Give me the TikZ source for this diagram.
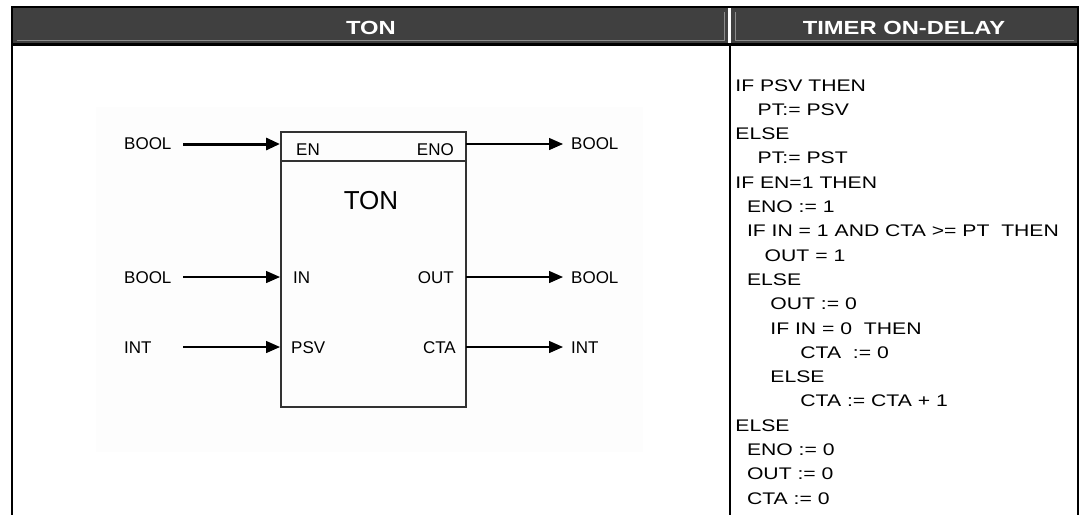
\documentclass[tikz,border=0pt]{standalone}
\usepackage{fontspec}
\setmainfont{Liberation Sans}
\newfontfamily\codefont[FakeStretch=1.26]{Liberation Sans}
\newfontfamily\hdrfont[FakeStretch=1.25]{Liberation Sans}
\usetikzlibrary{arrows.meta}
\definecolor{hdrgray}{RGB}{64,64,64}
\definecolor{bevel}{RGB}{140,140,140}
\definecolor{pale}{RGB}{253,253,253}
\definecolor{boxline}{RGB}{50,50,50}
\tikzset{
  hdr/.style={inner sep=0, text=white, font=\hdrfont\bfseries\fontsize{19}{21}\selectfont},
  code/.style={inner sep=0, anchor=base west, font=\codefont\fontsize{16.8}{18}\selectfont},
  pin/.style={inner sep=0, font=\fontsize{17}{18}\selectfont},
  title/.style={inner sep=0, font=\fontsize{26}{28}\selectfont},
  wire/.style={line width=1.4pt, -{Triangle[length=14pt,width=12pt]}},
  thickwire/.style={line width=3pt, -{Triangle[length=14pt,width=12pt]}},
  frame/.style={line width=2pt, black},
  bevelline/.style={line width=1pt, bevel},
  blockbox/.style={draw=boxline, line width=2pt, inner sep=0, minimum width=185pt, minimum height=275pt}
}
\begin{document}
\begin{tikzpicture}[x=1pt,y=-1pt]
\useasboundingbox (0,0) rectangle (1086,515);
% header cells
\fill[hdrgray] (12,7) rectangle (728.3,43.5);
\fill[hdrgray] (731,7) rectangle (1078,43.5);
\draw[bevelline] (16.7,40.3) -- (724.3,40.3) -- (724.3,12);
\draw[bevelline] (735.7,12) -- (735.7,40.3) -- (1074,40.3);
% frame
\draw[frame] (11,7) -- (1079,7);
\draw[frame] (12,6) -- (12,515);
\draw[frame] (1078,6) -- (1078,515);
\draw[line width=2.4pt] (11,44.5) -- (1079,44.5);
\draw[line width=2.4pt] (729.8,44.5) -- (729.8,515);
\node[hdr] (h1) at (371,28.3) {TON};
\node[hdr] (h2) at (904,28.3) {TIMER ON-DELAY};
% diagram area
\fill[pale] (96,107) rectangle (643,452);
\node[blockbox, anchor=north west] (blk) at (280,131) {};
\draw[boxline, line width=2pt] (280,161) -- (465,161);
\node[title] (ton) at (371,201) {TON};
% pins inside
\node[pin, anchor=west] (pEN) at (296,150) {EN};
\node[pin, anchor=east] (pENO) at (454,150) {ENO};
\node[pin, anchor=west] (pIN) at (293,278) {IN};
\node[pin, anchor=east] (pOUT) at (454,278) {OUT};
\node[pin, anchor=west] (pPSV) at (291,348) {PSV};
\node[pin, anchor=east] (pCTA) at (456,348) {CTA};
% outer labels
\node[pin, anchor=west] (lEN) at (124,144) {BOOL};
\node[pin, anchor=west] (lIN) at (124,278) {BOOL};
\node[pin, anchor=west] (lPSV) at (124,348) {INT};
\node[pin, anchor=west] (rENO) at (571,144) {BOOL};
\node[pin, anchor=west] (rOUT) at (571,278) {BOOL};
\node[pin, anchor=west] (rCTA) at (571,348) {INT};
% connector points
\coordinate (sEN) at (183,144);
\coordinate (sIN) at (183,277);
\coordinate (sPSV) at (183,347);
\coordinate (iEN) at (280,144);
\coordinate (iIN) at (280,277);
\coordinate (iPSV) at (280,347);
\coordinate (oENO) at (466,144);
\coordinate (oOUT) at (466,277);
\coordinate (oCTA) at (466,347);
\coordinate (tENO) at (563,144);
\coordinate (tOUT) at (563,277);
\coordinate (tCTA) at (563,347);
\draw[thickwire] (sEN) -- (iEN);
\draw[wire] (sIN) -- (iIN);
\draw[wire] (sPSV) -- (iPSV);
\draw[wire] (oENO) -- (tENO);
\draw[wire] (oOUT) -- (tOUT);
\draw[wire] (oCTA) -- (tCTA);
% code
\node[code] (c1) at (735.2,91) {IF PSV THEN};
\node[code] (c2) at (757.5,115.3) {PT:= PSV};
\node[code] (c3) at (735.2,139.6) {ELSE};
\node[code] (c4) at (757.5,163.9) {PT:= PST};
\node[code] (c5) at (735.2,188.2) {IF EN=1 THEN};
\node[code] (c6) at (746.8,212.5) {ENO := 1};
\node[code] (c7) at (746.8,236.8) {IF IN = 1 AND CTA >= PT\ \ THEN};
\node[code] (c8) at (764.5,261.1) {OUT = 1};
\node[code] (c9) at (746.8,285.4) {ELSE};
\node[code] (c10) at (770.2,309.7) {OUT := 0};
\node[code] (c11) at (770.2,334) {IF IN = 0\ \ THEN};
\node[code] (c12) at (800.2,358.3) {CTA\ \ := 0};
\node[code] (c13) at (770.2,382.6) {ELSE};
\node[code] (c14) at (800.2,406.9) {CTA := CTA + 1};
\node[code] (c15) at (735.2,431.2) {ELSE};
\node[code] (c16) at (746.8,455.5) {ENO := 0};
\node[code] (c17) at (746.8,479.8) {OUT := 0};
\node[code] (c18) at (746.8,504.1) {CTA := 0};
\end{tikzpicture}
\end{document}
